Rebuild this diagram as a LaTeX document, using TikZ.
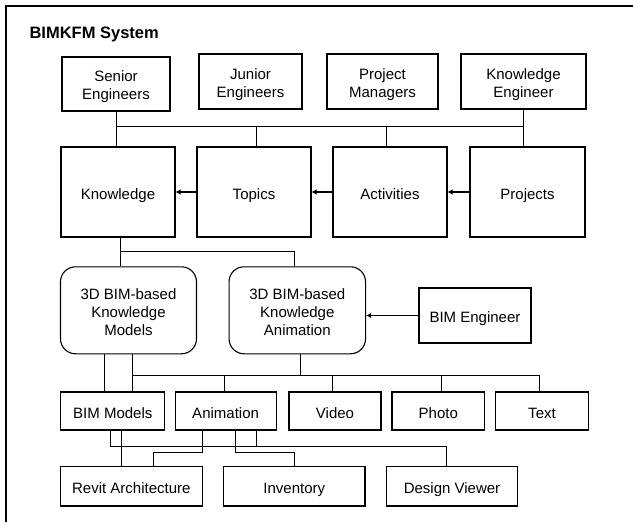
\documentclass[tikz,border=0pt]{standalone}
\usepackage{fontspec}
\setmainfont{Liberation Sans}
\usetikzlibrary{arrows.meta,calc}

\begin{document}
\begin{tikzpicture}[x=1pt, y=-1pt]
    \tikzstyle{box} = [rectangle, draw, line width=1.1pt, align=center, inner sep=0pt, text height=14pt, text depth=0pt, font=\fontsize{15}{18}\selectfont]
    \tikzstyle{twolines} = [text height=31.7pt]
    \tikzstyle{threelines} = [text height=49.7pt]
    \tikzstyle{roundbox} = [box, threelines, rounded corners=15pt]
    \tikzstyle{link} = [line width=1pt]
    \tikzstyle{arrow} = [line width=1.8pt, -{Latex[length=5pt,width=5.5pt]}]

    \useasboundingbox (0,0) rectangle (633,522);
    % Frame (only its top and left sides fall inside the picture)
    \draw[line width=2pt] (6,522) -- (6,6) -- (633,6);
    \node[anchor=base west, font=\fontsize{16.5}{20}\selectfont\bfseries] (title) at (26,38) {BIMKFM System};

    % Nodes
    \node[box, twolines, minimum width=108pt, minimum height=54pt] (senior) at (116,84) {Senior\\Engineers};
    \node[box, twolines, minimum width=103pt, minimum height=55pt] (junior) at (250.5,81.5) {Junior\\Engineers};
    \node[box, twolines, minimum width=111pt, minimum height=55pt] (pm) at (382.5,81.5) {Project\\Managers};
    \node[box, twolines, minimum width=125pt, minimum height=55pt] (keng) at (523.5,81.5) {Knowledge\\Engineer};

    \node[box, minimum width=114pt, minimum height=90pt] (know) at (118,192) {Knowledge};
    \node[box, minimum width=114pt, minimum height=90pt] (topics) at (254,192) {Topics};
    \node[box, minimum width=114pt, minimum height=90pt] (acts) at (390,192) {Activities};
    \node[box, minimum width=115pt, minimum height=90pt] (projs) at (527.5,192) {Projects};

    \node[roundbox, minimum width=136pt, minimum height=87pt] (models) at (128.5,310.3) {3D BIM-based\\Knowledge\\Models};
    \node[roundbox, minimum width=136.5pt, minimum height=87pt] (anim3d) at (297.3,310.3) {3D BIM-based\\Knowledge\\Animation};
    \node[box, minimum width=112pt, minimum height=55pt] (bimeng) at (475,315.5) {BIM Engineer};

    \node[box, minimum width=104pt, minimum height=38pt] (bimm) at (112.8,411) {BIM Models};
    \node[box, minimum width=101pt, minimum height=38pt] (anim) at (225.6,411) {Animation};
    \node[box, minimum width=92pt, minimum height=38pt] (video) at (335,411) {Video};
    \node[box, minimum width=92.6pt, minimum height=38pt] (photo) at (438.3,411) {Photo};
    \node[box, minimum width=92.6pt, minimum height=38pt] (txt) at (542,411) {Text};

    \node[box, minimum width=141.7pt, minimum height=39.3pt] (revit) at (131.3,486.3) {Revit Architecture};
    \node[box, minimum width=141.4pt, minimum height=39.3pt] (inv) at (294.3,486.3) {Inventory};
    \node[box, minimum width=131pt, minimum height=39.3pt] (dview) at (452,486.3) {Design Viewer};

    % Connectors
    \coordinate (bus1) at ($(senior.south)+(0,14.5)$);
    \draw[link] (senior.south) -- (senior.south |- know.north);
    \draw[link] (bus1) -| (keng.south);
    \draw[link] (keng.south) -- (keng.south |- projs.north);
    \draw[link] ($(topics.north)+(2.4,0)$) coordinate (t1) -- (t1 |- bus1);
    \draw[link] ($(acts.north)+(-3.5,0)$) coordinate (a1) -- (a1 |- bus1);

    \draw[arrow] (topics.west) -- (know.east);
    \draw[arrow] (acts.west) -- (topics.east);
    \draw[arrow] (projs.west) -- (acts.east);

    \draw[link] ($(know.south)+(2.6,0)$) coordinate (k1) -- (k1 |- models.north);
    \draw[link] ($(k1)+(0,13.5)$) -| ($(anim3d.north)+(-2.8,0)$);
    \draw[arrow] (bimeng.west) -- (bimeng.west -| anim3d.east);

    \draw[link] ($(models.south)+(-24,0)$) coordinate (m1) -- (m1 |- bimm.north);
    \draw[link] ($(models.south)+(3.5,0)$) coordinate (m2) -- (m2 |- bimm.north);
    \draw[link] ($(anim3d.south)+(3,0)$) -- ++(0,21.3) coordinate (bus3);
    \draw[link] (m2 |- bus3) -| ($(txt.north)+(-2.7,0)$);
    \draw[link] ($(anim.north)+(-1.3,0)$) coordinate (n1) -- (n1 |- bus3);
    \draw[link] ($(video.north)+(-2.3,0)$) coordinate (n2) -- (n2 |- bus3);
    \draw[link] ($(photo.north)+(3.2,0)$) coordinate (n3) -- (n3 |- bus3);

    \draw[link] ($(bimm.south)+(-2.5,0)$) -- ++(0,16) -| ($(dview.north)+(-5.3,0)$);
    \draw[link] ($(bimm.south)+(8.2,0)$) coordinate (b2) -- (b2 |- revit.north);
    \draw[link] ($(anim.south)+(-23,0)$) -- ++(0,21.5) -| ($(revit.north)+(22.4,0)$);
    \draw[link] ($(anim.south)+(9.5,0)$) -- ++(0,21.5) -| (inv.north);
    \draw[link] ($(anim.south)+(31,0)$) -- ++(0,16);
\end{tikzpicture}
\end{document}
